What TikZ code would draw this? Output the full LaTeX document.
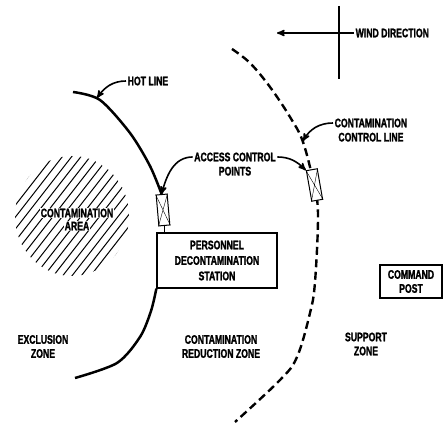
\documentclass[tikz,border=0pt]{standalone}
\usepackage{fontspec}
\newfontfamily\lblfont[FakeStretch=0.7,BoldFeatures={FakeBold=1.5}]{Liberation Sans}
\usetikzlibrary{arrows,positioning}

\begin{document}
\begin{tikzpicture}[x=1pt,y=1pt,>=stealth',
                    txt/.style={font=\lblfont\bfseries\fontsize{12.4}{14}\selectfont,
                                align=center,inner sep=1.5pt},
                    boxed/.style={txt,draw,line width=1.3pt,fill=white},
                    acpbox/.style={draw,fill=white,line width=1pt,inner sep=0pt,
                                   minimum width=11pt,minimum height=31pt},
                    hotline/.style={line width=2.5pt},
                    ccline/.style={line width=2.4pt,dash pattern=on 8pt off 4.5pt},
                    leader/.style={->,line width=1.6pt},
                    hatch/.style={line width=1pt}]

  \useasboundingbox (0,0) rectangle (448,423);

  % hatched contamination area
  \begin{scope}
    \clip (72,207) ellipse [x radius=57pt,y radius=60pt];
    \foreach \k in {-9,...,9}
      \draw[hatch,shift={(\k*5.8,-\k*4.5)}] (23,144) -- (121,270);
  \end{scope}

  % contamination control line
  \draw[ccline] plot[smooth,tension=0.6] coordinates {(232,374) (250,360) (270,336)
        (290,306) (303,281) (314,238) (318,208) (315,141) (310,110) (297,66)
        (280,43) (235,1)};

  \node[acpbox,rotate=5]  (acp1) at (163,213) {};
  \node[acpbox,rotate=10] (acp2) at (314.5,238) {};
  \draw (acp1.north west) -- (acp1.south east) (acp1.north east) -- (acp1.south west);
  \draw (acp2.north west) -- (acp2.south east) (acp2.north east) -- (acp2.south west);

  \node[boxed,minimum width=120pt,minimum height=55pt] (stn) at (217,162.5)
        {PERSONNEL\\[1.5pt]DECONTAMINATION\\[1.5pt]STATION};
  \node[boxed,minimum width=62pt,minimum height=33pt]  (cmd) at (411,141.5)
        {COMMAND\\POST};

  % hot line
  \draw[hotline] plot[smooth] coordinates {(73,331) (100,323) (130,290) (150,257) (acp1.north)};
  \draw[line width=1.6pt] (acp1.south) -- (acp1.south |- stn.north);
  \draw[hotline] plot[smooth] coordinates {(stn.south west) (151,112) (140,86) (117,60) (75,45)};

  % wind direction
  \coordinate (wtop) at (339,417);
  \coordinate (wbot) at (339,344);
  \coordinate (wtip) at (277,390);
  \node[txt,anchor=west] (wind) at (354,390) {WIND DIRECTION};
  \draw[line width=1.5pt] (wtop) -- (wbot);
  \draw[leader] (wind.west) -- (wtip);

  % labels
  \node[txt,anchor=west] (hot) at (126,342) {HOT LINE};
  \node[txt]                (acc) at (235,266) {ACCESS CONTROL};
  \node[txt,below=2pt of acc] (pts)            {POINTS};
  \node[txt,anchor=west] (ccl) at (333,300) {CONTAMINATION};
  \node[txt,below=2pt of ccl] (cll)            {CONTROL LINE};
  \node[txt,fill=white,inner sep=1pt] (area1) at (77,210) {CONTAMINATION};
  \node[txt,fill=white,inner sep=1pt,below=2pt of area1] (area2) {AREA};

  \node[txt] (exz) at (43,76.5)  {EXCLUSION\\ZONE};
  \node[txt] (crz) at (221,76.5) {CONTAMINATION\\REDUCTION ZONE};
  \node[txt] (spz) at (366,79)   {SUPPORT\\ZONE};

  % leaders
  \coordinate (hotpt) at (97,325);
  \coordinate (cclpt) at (303,282);
  \draw[leader] (hot.west) to[out=180,in=55] (hotpt);
  \draw[leader] (acc.west) to[out=180,in=75] (acp1.north);
  \draw[leader] (acc.east) to[out=0,in=135] (acp2.north west);
  \draw[leader] (ccl.west) to[out=180,in=60] (cclpt);
\end{tikzpicture}
\end{document}
